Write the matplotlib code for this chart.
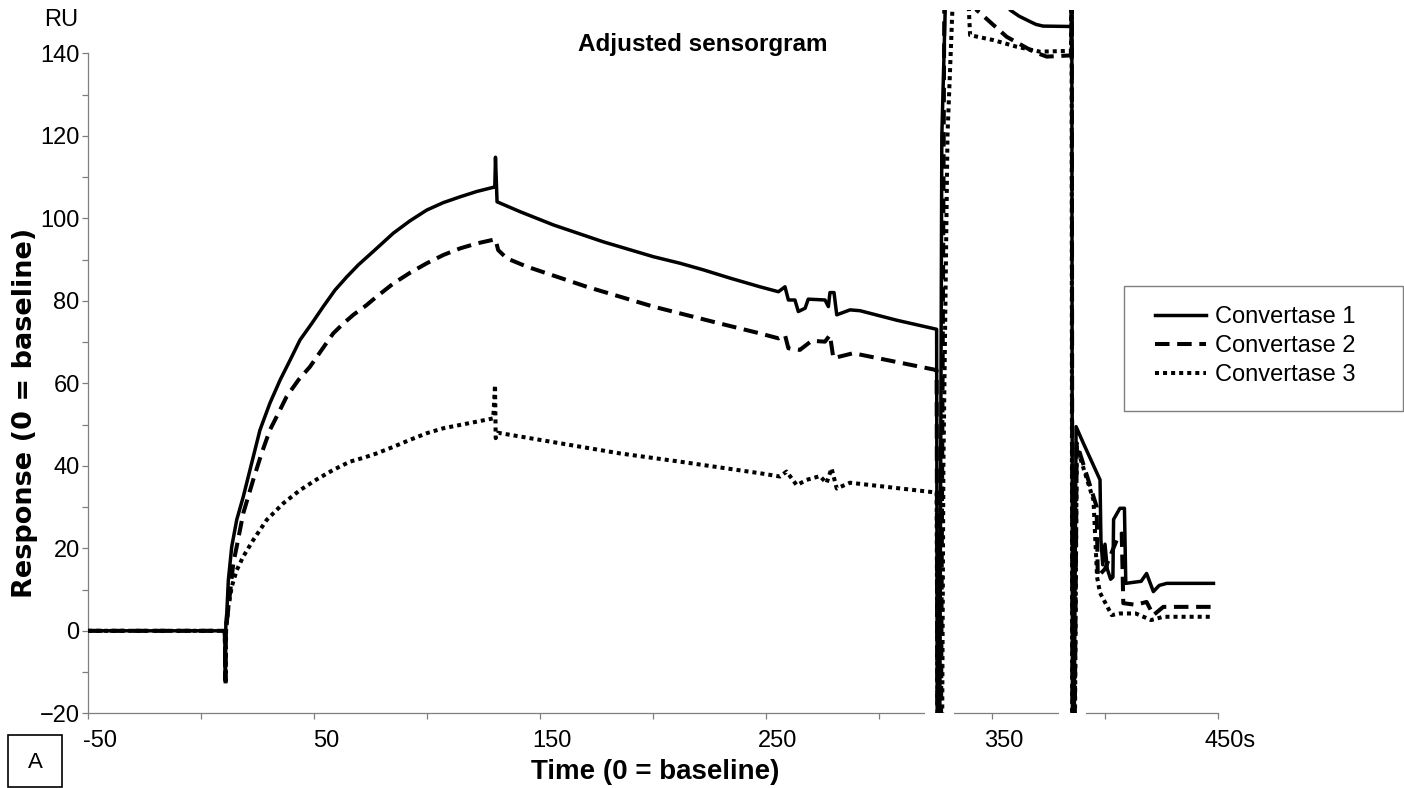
import matplotlib
matplotlib.use("Agg")
import matplotlib.pyplot as plt
import matplotlib.transforms as mtransforms
from matplotlib.patches import Rectangle
from matplotlib.lines import Line2D

plt.rcParams['font.family'] = ['Liberation Sans', 'DejaVu Sans']

# (time in s, response in RU); values outside the
# window are where the traces run off the chart
t1 = [-50, 10.5, 10.8, 11.0, 11.4, 12.1, 13.6, 15.8, 18.7, 22.4, 26.1, 30.5, 35, 39.4, 43.8, 49,
      54.1, 59.3, 64.5, 69.6, 77.7, 85.1, 92.5, 99.9, 107.2, 114.6, 122, 130.0, 130.3,
      131.0, 141.2, 155.9, 178, 200.1, 212, 222.3, 234.1, 247.3, 255.5, 258.4, 259.9, 262.8, 264.3,
      267.3, 268.7, 276.1, 277.6, 278.3, 280.1, 281.3, 287.2, 291.6, 307.8, 325.5, 325.8, 326.8,
      327.8, 330, 350, 356, 358, 362, 366.8, 369.5, 372.6, 385.1, 385.3, 385.6, 386.2, 387.2,
      390.4, 397.8, 398.2, 399, 400, 401, 402.5, 403.5, 403.8, 406.6, 408.6, 409.2, 416, 418.4,
      421.4, 424, 427.3, 448]
r1 = [0, 0, -11, 2, 4.2, 12.3, 20.4, 26.9, 32.5, 40.6, 48.7, 55.2, 60.8, 65.6, 70.5, 74.5,
      78.6, 82.6, 85.8, 88.7, 92.7, 96.4, 99.4, 102, 103.8, 105.2, 106.5, 107.6, 114.8,
      104, 101.6, 98.4, 94.3, 90.7, 89.1, 87.5, 85.5, 83.4, 82.2, 83.4, 80.2, 80.2, 77.4,
      78.2, 80.4, 80.2, 78.6, 82, 82, 76.6, 77.8, 77.6, 75.3, 73.1, -40, -40,
      120, 165, 165, 155, 150.5, 149.0, 147.7, 147.0, 146.6, 146.5, 165, -40, -40, 49.5,
      45.5, 36.6, 22, 16, 21, 15, 12.5, 13, 27, 29.7, 29.7, 11.5, 12, 13.9,
      9.5, 11, 11.5, 11.5]

t2 = [-50, 10.5, 10.8, 11.0, 14.3, 15.8, 18.7, 23.1, 26.8, 30.5, 34.2, 37.9, 43.1, 48.2, 53.4,
      58.5, 63, 67.4, 72.9, 77.7, 85.1, 92.5, 99.9, 107.2, 114.6, 122, 130.1,
      130.3, 131.5, 135.3, 144.1, 170.7, 200.1, 229.6, 247.3, 255.5, 258.4, 259.9, 265, 270.2, 276.1,
      278.3, 279.8, 288.6, 325.5, 325.9, 327.3, 329, 340, 343.2, 356.5, 368.3, 374.2, 385.1, 385.3,
      385.6, 386.4, 387.5, 396.3, 396.8, 400, 405.2, 407.4, 408.1, 413.6, 418.4, 421.4, 425.8, 448]
r2 = [0, 0, -12, 0, 16.4, 20.4, 28.5, 36.6, 43, 48.7, 52.7, 56.8, 60.8, 64, 68.1,
      72.1, 74.5, 76.6, 78.8, 81, 84.2, 86.8, 89.1, 91.1, 92.7, 93.9, 94.9,
      94.9, 92.3, 90.3, 88.3, 83.4, 78.6, 74.5, 72.1, 70.9, 71.7, 68.5, 68.1, 70.3, 70.1,
      71.7, 66.1, 67.3, 63.2, -40, -40, 165, 165, 150.5, 144, 140.4, 139.2, 139.5, 165,
      -40, -40, 45.5, 30.1, 13.1, 15, 22, 23.6, 6.7, 6.3, 7, 3.8, 5.8, 5.8]

t3 = [-50, 10.5, 10.9, 11.1, 12.1, 13.6, 15.8, 18.7, 23.1, 29.1, 36.4, 43.8, 51.2, 58.5, 65.9,
      72.2, 77.7, 85.1, 92.5, 99.9, 107.2, 114.6, 122, 129.3, 130.1,
      130.4, 131.5, 141.2, 185.4, 212, 247.3, 256.2, 259.1, 263.6, 268, 273.9, 276.8, 279, 281.3,
      287.2, 325.5, 326.0, 327.8, 328.5, 330.3, 333.5, 338.5, 340.3, 350.6, 360.9, 371.2, 385.0,
      385.2, 385.5, 386.5, 387.5, 394.9, 396.5, 397.8, 403, 406.6, 413.6, 420.4, 425.8, 448]
r3 = [0, 0, -13, 0, 5.8, 10.7, 14.7, 18, 22, 26.9, 30.9, 34.1, 36.7, 39, 41,
      42, 43, 44.6, 46.3, 47.9, 49.1, 49.9, 50.7, 51.5, 59.6,
      46.7, 48, 47.1, 43, 41, 38.2, 37.4, 38.6, 35.3, 36.6, 37.5, 35.8, 39.4, 34.5,
      35.9, 33.5, -40, -40, 40, 120, 165, 165, 144.4, 143.2, 141.6, 140.4, 140.6,
      165, -40, -40, 44.6, 31.7, 13, 9.2, 3.8, 4.2, 4.2, 2.6, 3.4, 3.4]

names = ["Convertase 1", "Convertase 2", "Convertase 3"]
xlabels = ["-50", "50", "150", "250", "350", "450s"]
xmajor = [-50, 50, 150, 250, 350, 450]
xminor = [0, 100, 200, 300, 400]

grey = "#7f7f7f"
fig = plt.figure(figsize=(14.04, 7.88), dpi=100)
ax = fig.add_axes([0.06268, 0.0948, 0.80484, 0.89251])

styles = [dict(ls="-", lw=2.5),
          dict(ls=(0, (3.6, 1.9)), lw=2.9, dash_capstyle="butt"),
          dict(ls=(0, (1.0, 1.0)), lw=2.9, dash_capstyle="butt")]
handles = []
for t, r, st in zip([t3, t2, t1], [r3, r2, r1], styles[::-1]):
    ax.plot(t, r, color="black", zorder=3, **st)
for st, nm in zip(styles, names):
    handles.append(Line2D([], [], color="black", **st, label=nm))

ax.set_xlim(-50, 450)
ax.set_ylim(-20, 150.5)
for s in ["top", "right"]:
    ax.spines[s].set_visible(False)
for s in ["left", "bottom"]:
    ax.spines[s].set_color(grey)
    ax.spines[s].set_linewidth(0.9)
ax.spines["left"].set_bounds(-20, 140)

ax.set_yticks(range(-20, 141, 20))
ax.set_yticks(range(-10, 140, 20), minor=True)
ax.set_xticks(xmajor)
ax.set_xticklabels(xlabels)
ax.set_xticks(xminor, minor=True)
ax.tick_params(axis="both", which="both", direction="out", length=4, width=0.9, color=grey,
               labelsize=17)
ax.tick_params(axis="y", pad=2)
ax.tick_params(axis="x", pad=8)
shift = mtransforms.ScaledTranslation(12 / 100, 0, fig.dpi_scale_trans)
for lab in ax.get_xticklabels():
    lab.set_transform(lab.get_transform() + shift)

# white gaps in the time axis under the regeneration pulses
btrans = mtransforms.blended_transform_factory(ax.transData, ax.transAxes)
for x0, x1 in [(320.5, 333.2), (379.5, 391.5)]:
    ax.add_patch(Rectangle((x0, -0.02), x1 - x0, 0.03, transform=btrans, facecolor="white",
                           edgecolor="none", zorder=2.7, clip_on=False))

fig.text(0.5007, 0.943, "Adjusted sensorgram", ha="center", va="center", fontsize=17.5,
         fontweight="bold")
fig.text(0.4665, 0.020, "Time (0 = baseline)", ha="center", va="center", fontsize=20,
         fontweight="bold")
# the y title is drawn wider than the x title in the original
fig.text(0.0178, 0.476, "Response (0 = baseline)", ha="center", va="center", fontsize=19.5,
         fontweight="bold", rotation=90, family="DejaVu Sans")
fig.text(0.0434, 0.975, "RU", ha="center", va="center", fontsize=17)

fig.add_artist(Rectangle((8 / 1404, 1 - 787 / 788), 54 / 1404, 52 / 788, transform=fig.transFigure,
                         facecolor="white", edgecolor="black", lw=1.2))
fig.text(35 / 1404, 1 - 762 / 788, "A", ha="center", va="center", fontsize=16)

fig.add_artist(Rectangle((1124 / 1404, 1 - 411 / 788), 279 / 1404, 125 / 788,
                         transform=fig.transFigure, facecolor="white", edgecolor=grey, lw=1.0))
fig.legend(handles=handles, loc="center left", bbox_to_anchor=(1155 / 1404, 1 - 346 / 788),
           frameon=False, fontsize=17, handlelength=2.15, handletextpad=0.4, labelspacing=0.3,
           borderpad=0, borderaxespad=0)

fig.savefig("out.png", dpi=100)
